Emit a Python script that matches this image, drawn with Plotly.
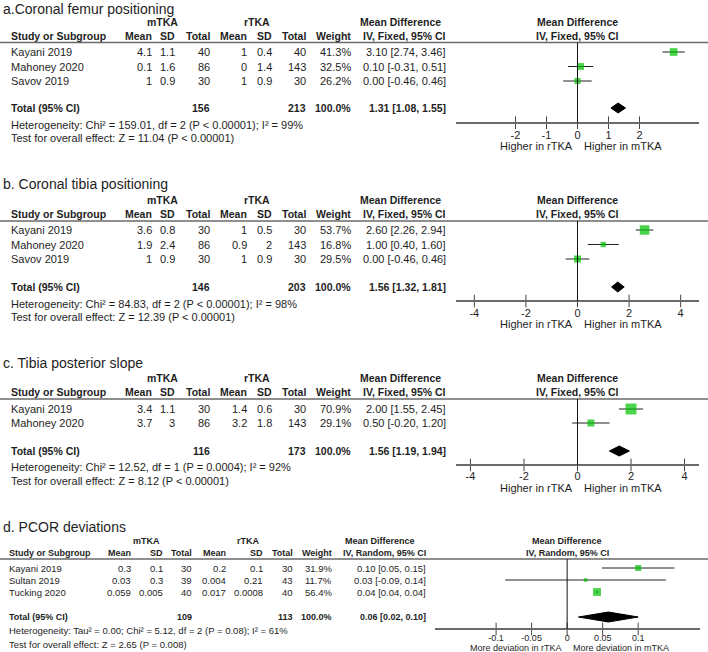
import plotly.graph_objects as go

W, H = 708, 652

# ---------------- data ----------------
a_title = "a.Coronal femur positioning"
a_studies = ["Kayani 2019", "Mahoney 2020", "Savov 2019"]
a_m_mean = [4.1, 0.1, 1]
a_m_sd = [1.1, 1.6, 0.9]
a_m_n = [40, 86, 30]
a_r_mean = [1, 0, 1]
a_r_sd = [0.4, 1.4, 0.9]
a_r_n = [40, 143, 30]
a_weight = [41.3, 32.5, 26.2]
a_md = [3.10, 0.10, 0.00]
a_lo = [2.74, -0.31, -0.46]
a_hi = [3.46, 0.51, 0.46]
a_total = [1.31, 1.08, 1.55]
a_het = "Heterogeneity: Chi² = 159.01, df = 2 (P < 0.00001); I² = 99%"
a_test = "Test for overall effect: Z = 11.04 (P < 0.00001)"
a_ticks = [-2, -1, 0, 1, 2]

b_title = "b. Coronal tibia positioning"
b_studies = ["Kayani 2019", "Mahoney 2020", "Savov 2019"]
b_m_mean = [3.6, 1.9, 1]
b_m_sd = [0.8, 2.4, 0.9]
b_m_n = [30, 86, 30]
b_r_mean = [1, 0.9, 1]
b_r_sd = [0.5, 2, 0.9]
b_r_n = [30, 143, 30]
b_weight = [53.7, 16.8, 29.5]
b_md = [2.60, 1.00, 0.00]
b_lo = [2.26, 0.40, -0.46]
b_hi = [2.94, 1.60, 0.46]
b_total = [1.56, 1.32, 1.81]
b_het = "Heterogeneity: Chi² = 84.83, df = 2 (P < 0.00001); I² = 98%"
b_test = "Test for overall effect: Z = 12.39 (P < 0.00001)"
b_ticks = [-4, -2, 0, 2, 4]

c_title = "c. Tibia posterior slope"
c_studies = ["Kayani 2019", "Mahoney 2020"]
c_m_mean = [3.4, 3.7]
c_m_sd = [1.1, 3]
c_m_n = [30, 86]
c_r_mean = [1.4, 3.2]
c_r_sd = [0.6, 1.8]
c_r_n = [30, 143]
c_weight = [70.9, 29.1]
c_md = [2.00, 0.50]
c_lo = [1.55, -0.20]
c_hi = [2.45, 1.20]
c_total = [1.56, 1.19, 1.94]
c_het = "Heterogeneity: Chi² = 12.52, df = 1 (P = 0.0004); I² = 92%"
c_test = "Test for overall effect: Z = 8.12 (P < 0.00001)"
c_ticks = [-4, -2, 0, 2, 4]

d_title = "d. PCOR deviations"
d_studies = ["Kayani 2019", "Sultan 2019", "Tucking 2020"]
d_m_mean = [0.3, 0.03, 0.059]
d_m_sd = [0.1, 0.3, 0.005]
d_m_n = [30, 39, 40]
d_r_mean = [0.2, 0.004, 0.017]
d_r_sd = [0.1, 0.21, 0.0008]
d_r_n = [30, 43, 40]
d_weight = [31.9, 11.7, 56.4]
d_md = [0.10, 0.026, 0.042]
d_lo = [0.049, -0.087, 0.040]
d_hi = [0.151, 0.139, 0.044]
d_total = [0.058, 0.016, 0.100]
d_het = "Heterogeneity: Tau² = 0.00; Chi² = 5.12, df = 2 (P = 0.08); I² = 61%"
d_test = "Test for overall effect: Z = 2.65 (P = 0.008)"
d_ticks = [-0.1, -0.05, 0, 0.05, 0.1]

group_labels = ["mTKA", "rTKA"]
fixed_label = "IV, Fixed, 95% CI"
random_label = "IV, Random, 95% CI"
dir_ab = ["Higher in rTKA", "Higher in mTKA"]
dir_d = ["More deviation in rTKA", "More deviation in mTKA"]

# ---------------- layout (pixel positions) ----------------
COLS_ABC = dict(study=9.5, m_mean=153, m_sd=176, m_n=211, r_mean=248, r_sd=273,
                r_n=307, weight=352, ci=447, g_m=162, g_r=257, md_head=400)
COLS_D = dict(study=8, m_mean=132, m_sd=164, m_n=193, r_mean=227, r_sd=264,
              r_n=294, weight=333, ci=427, g_m=146, g_r=248, md_head=380)

panels = [
    dict(title=a_title, studies=a_studies, m_mean=a_m_mean, m_sd=a_m_sd, m_n=a_m_n,
         r_mean=a_r_mean, r_sd=a_r_sd, r_n=a_r_n, weight=a_weight, md=a_md, lo=a_lo,
         hi=a_hi, total=a_total, het=a_het, test=a_test, ticks=a_ticks, method=fixed_label,
         dirs=dir_ab, cols=COLS_ABC, fs=11, fb=10.5, fa=11, sq=1.2, so=2,
         ty=9, gy=22, hy=36, ly=42.5, r0=52, rs=14.5, toty=108, hety=125, testy=138,
         axy=122.7, diry=145.5, dom=(456, 699), rng=(-3.92, 3.92)),
    dict(title=b_title, studies=b_studies, m_mean=b_m_mean, m_sd=b_m_sd, m_n=b_m_n,
         r_mean=b_r_mean, r_sd=b_r_sd, r_n=b_r_n, weight=b_weight, md=b_md, lo=b_lo,
         hi=b_hi, total=b_total, het=b_het, test=b_test, ticks=b_ticks, method=fixed_label,
         dirs=dir_ab, cols=COLS_ABC, fs=11, fb=10.5, fa=11, sq=1.3, so=2,
         ty=184, gy=200, hy=214, ly=221, r0=230, rs=14.5, toty=287, hety=304, testy=317,
         axy=301, diry=323.5, dom=(456, 699), rng=(-4.71, 4.71)),
    dict(title=c_title, studies=c_studies, m_mean=c_m_mean, m_sd=c_m_sd, m_n=c_m_n,
         r_mean=c_r_mean, r_sd=c_r_sd, r_n=c_r_n, weight=c_weight, md=c_md, lo=c_lo,
         hi=c_hi, total=c_total, het=c_het, test=c_test, ticks=c_ticks, method=fixed_label,
         dirs=dir_ab, cols=COLS_ABC, fs=11, fb=10.5, fa=11, sq=1.3, so=1,
         ty=363, gy=378, hy=392, ly=399, r0=409, rs=14, toty=451, hety=467, testy=481,
         axy=465, diry=487.5, dom=(456, 699), rng=(-4.54, 4.54)),
    dict(title=d_title, studies=d_studies, m_mean=d_m_mean, m_sd=d_m_sd, m_n=d_m_n,
         r_mean=d_r_mean, r_sd=d_r_sd, r_n=d_r_n, weight=d_weight, md=d_md, lo=d_lo,
         hi=d_hi, total=d_total, het=d_het, test=d_test, ticks=d_ticks, method=random_label,
         dirs=dir_d, cols=COLS_D, fs=9.5, fb=9, fa=9, sq=1.05, so=0,
         ty=527, gy=541, hy=553, ly=559, r0=568, rs=12, toty=617, hety=630, testy=644,
         axy=629, diry=647.5, dom=(435, 700), rng=(-0.186, 0.187)),
]

FONT = "Arial, 'Liberation Sans', sans-serif"
TXT = "#1e1e1e"
RULE = "#6a6a6a"
GREEN = "#00C000"

fig = go.Figure()
annotations = []
shapes = []


def text(x, y, s, anchor="left", size=10.5, bold=False, xref="paper", xshift=0):
    if bold:
        s = f"<b>{s}</b>"
    annotations.append(dict(
        x=x / W if xref == "paper" else x, y=y, xref=xref, yref="y", text=s,
        showarrow=False, xanchor=anchor, yanchor="middle", xshift=xshift,
        borderpad=0, font=dict(family=FONT, size=size, color=TXT)))


def g(v):
    return f"{v:g}"


layout_axes = {}
for i, p in enumerate(panels):
    k = i + 2
    xa = f"x{k}"
    c = p["cols"]
    fs = p["fs"]
    fb = p["fb"]
    rows = [p["r0"] + j * p["rs"] for j in range(len(p["studies"]))]

    # title
    text(2, p["ty"], p["title"], size=14)
    # group headers
    text(c["g_m"], p["gy"], group_labels[0], "center", fb, True)
    text(c["g_r"], p["gy"], group_labels[1], "center", fb, True)
    text(c["md_head"], p["gy"], "Mean Difference", "center", fb, True)
    text(0, p["gy"], "Mean Difference", "center", fb, True, xref=xa)
    # column headers
    text(c["study"], p["hy"], "Study or Subgroup", "left", fb, True)
    for key, lab in [("m_mean", "Mean"), ("m_sd", "SD"), ("m_n", "Total"),
                     ("r_mean", "Mean"), ("r_sd", "SD"), ("r_n", "Total"),
                     ("weight", "Weight"), ("ci", p["method"])]:
        text(c[key], p["hy"], lab, "right", fb, True)
    text(0, p["hy"], p["method"], "center", fb, True, xref=xa)
    # header rule
    shapes.append(dict(type="line", xref="paper", yref="y", x0=0, x1=1,
                       y0=p["ly"], y1=p["ly"], line=dict(color=RULE, width=1.5)))
    # study rows
    for j, ry in enumerate(rows):
        text(c["study"], ry, p["studies"][j], "left", fs)
        text(c["m_mean"], ry, g(p["m_mean"][j]), "right", fs)
        text(c["m_sd"], ry, g(p["m_sd"][j]), "right", fs)
        text(c["m_n"], ry, g(p["m_n"][j]), "right", fs)
        text(c["r_mean"], ry, g(p["r_mean"][j]), "right", fs)
        text(c["r_sd"], ry, g(p["r_sd"][j]), "right", fs)
        text(c["r_n"], ry, g(p["r_n"][j]), "right", fs)
        text(c["weight"], ry, f"{p['weight'][j]:.1f}%", "right", fs)
        text(c["ci"], ry, f"{p['md'][j]:.2f} [{p['lo'][j]:.2f}, {p['hi'][j]:.2f}]", "right", fs)
    # total row
    ty = p["toty"]
    text(c["study"], ty, "Total (95% CI)", "left", fb, True)
    text(c["m_n"], ty, str(sum(p["m_n"])), "right", fb, True)
    text(c["r_n"], ty, str(sum(p["r_n"])), "right", fb, True)
    text(c["weight"], ty, f"{sum(p['weight']):.1f}%", "right", fb, True)
    tm, tl, th = p["total"]
    text(c["ci"], ty, f"{tm:.2f} [{tl:.2f}, {th:.2f}]", "right", fb, True)
    text(c["study"], p["hety"], p["het"], "left", fs)
    text(c["study"], p["testy"], p["test"], "left", fs)
    # direction labels
    text(0, p["diry"], p["dirs"][0], "right", p["fa"], xref=xa, xshift=-4)
    text(0, p["diry"], p["dirs"][1], "left", p["fa"], xref=xa, xshift=5)

    # zero line
    shapes.append(dict(type="line", xref=xa, yref="y", x0=0, x1=0,
                       y0=p["ly"], y1=p["axy"], line=dict(color="#111", width=1)))

    # CI lines
    cx, cy = [], []
    for j, ry in enumerate(rows):
        cx += [p["lo"][j], p["hi"][j], None]
        cy += [ry, ry, None]
    fig.add_trace(go.Scatter(x=cx, y=cy, xaxis=xa, yaxis="y", mode="lines",
                             line=dict(color="#222", width=1), hoverinfo="skip",
                             showlegend=False))
    # squares
    fig.add_trace(go.Scatter(x=p["md"], y=rows, xaxis=xa, yaxis="y", mode="markers",
                             marker=dict(symbol="square", color=GREEN,
                                         size=[p["sq"] * w ** 0.5 for w in p["weight"]],
                                         line=dict(width=0)),
                             cliponaxis=False, hoverinfo="skip", showlegend=False))
    # diamond
    hh = 5
    fig.add_trace(go.Scatter(x=[tl, tm, th, tm, tl], y=[ty, ty - hh, ty, ty + hh, ty],
                             xaxis=xa, yaxis="y", mode="lines", fill="toself",
                             fillcolor="black", line=dict(color="black", width=1),
                             hoverinfo="skip", showlegend=False))
    # tick marks crossing axis line
    fig.add_trace(go.Scatter(x=p["ticks"], y=[p["axy"]] * len(p["ticks"]), xaxis=xa,
                             yaxis="y", mode="markers",
                             marker=dict(symbol="line-ns", size=9,
                                         line=dict(width=1, color="#444")),
                             cliponaxis=False, hoverinfo="skip", showlegend=False))

    layout_axes[f"xaxis{k}"] = dict(
        domain=[p["dom"][0] / W, p["dom"][1] / W], range=list(p["rng"]),
        anchor="free", position=1 - p["axy"] / H, showline=True,
        linecolor=RULE, linewidth=1.5, tickvals=p["ticks"],
        ticktext=[g(t) for t in p["ticks"]], ticks="", ticklabelstandoff=p["so"],
        showgrid=False, zeroline=False, fixedrange=True,
        tickfont=dict(family=FONT, size=p["fa"], color=TXT))

fig.update_layout(
    width=W, height=H, margin=dict(l=0, r=0, t=0, b=0),
    paper_bgcolor="white", plot_bgcolor="rgba(0,0,0,0)",
    xaxis=dict(visible=False, range=[0, W], domain=[0, 1], fixedrange=True),
    yaxis=dict(visible=False, range=[H, 0], domain=[0, 1], fixedrange=True),
    annotations=annotations, shapes=shapes, showlegend=False,
    **layout_axes,
)

fig.write_html("out.html", config={"displayModeBar": False},
               post_script="document.body.style.margin='0px';document.body.style.overflow='hidden';")
